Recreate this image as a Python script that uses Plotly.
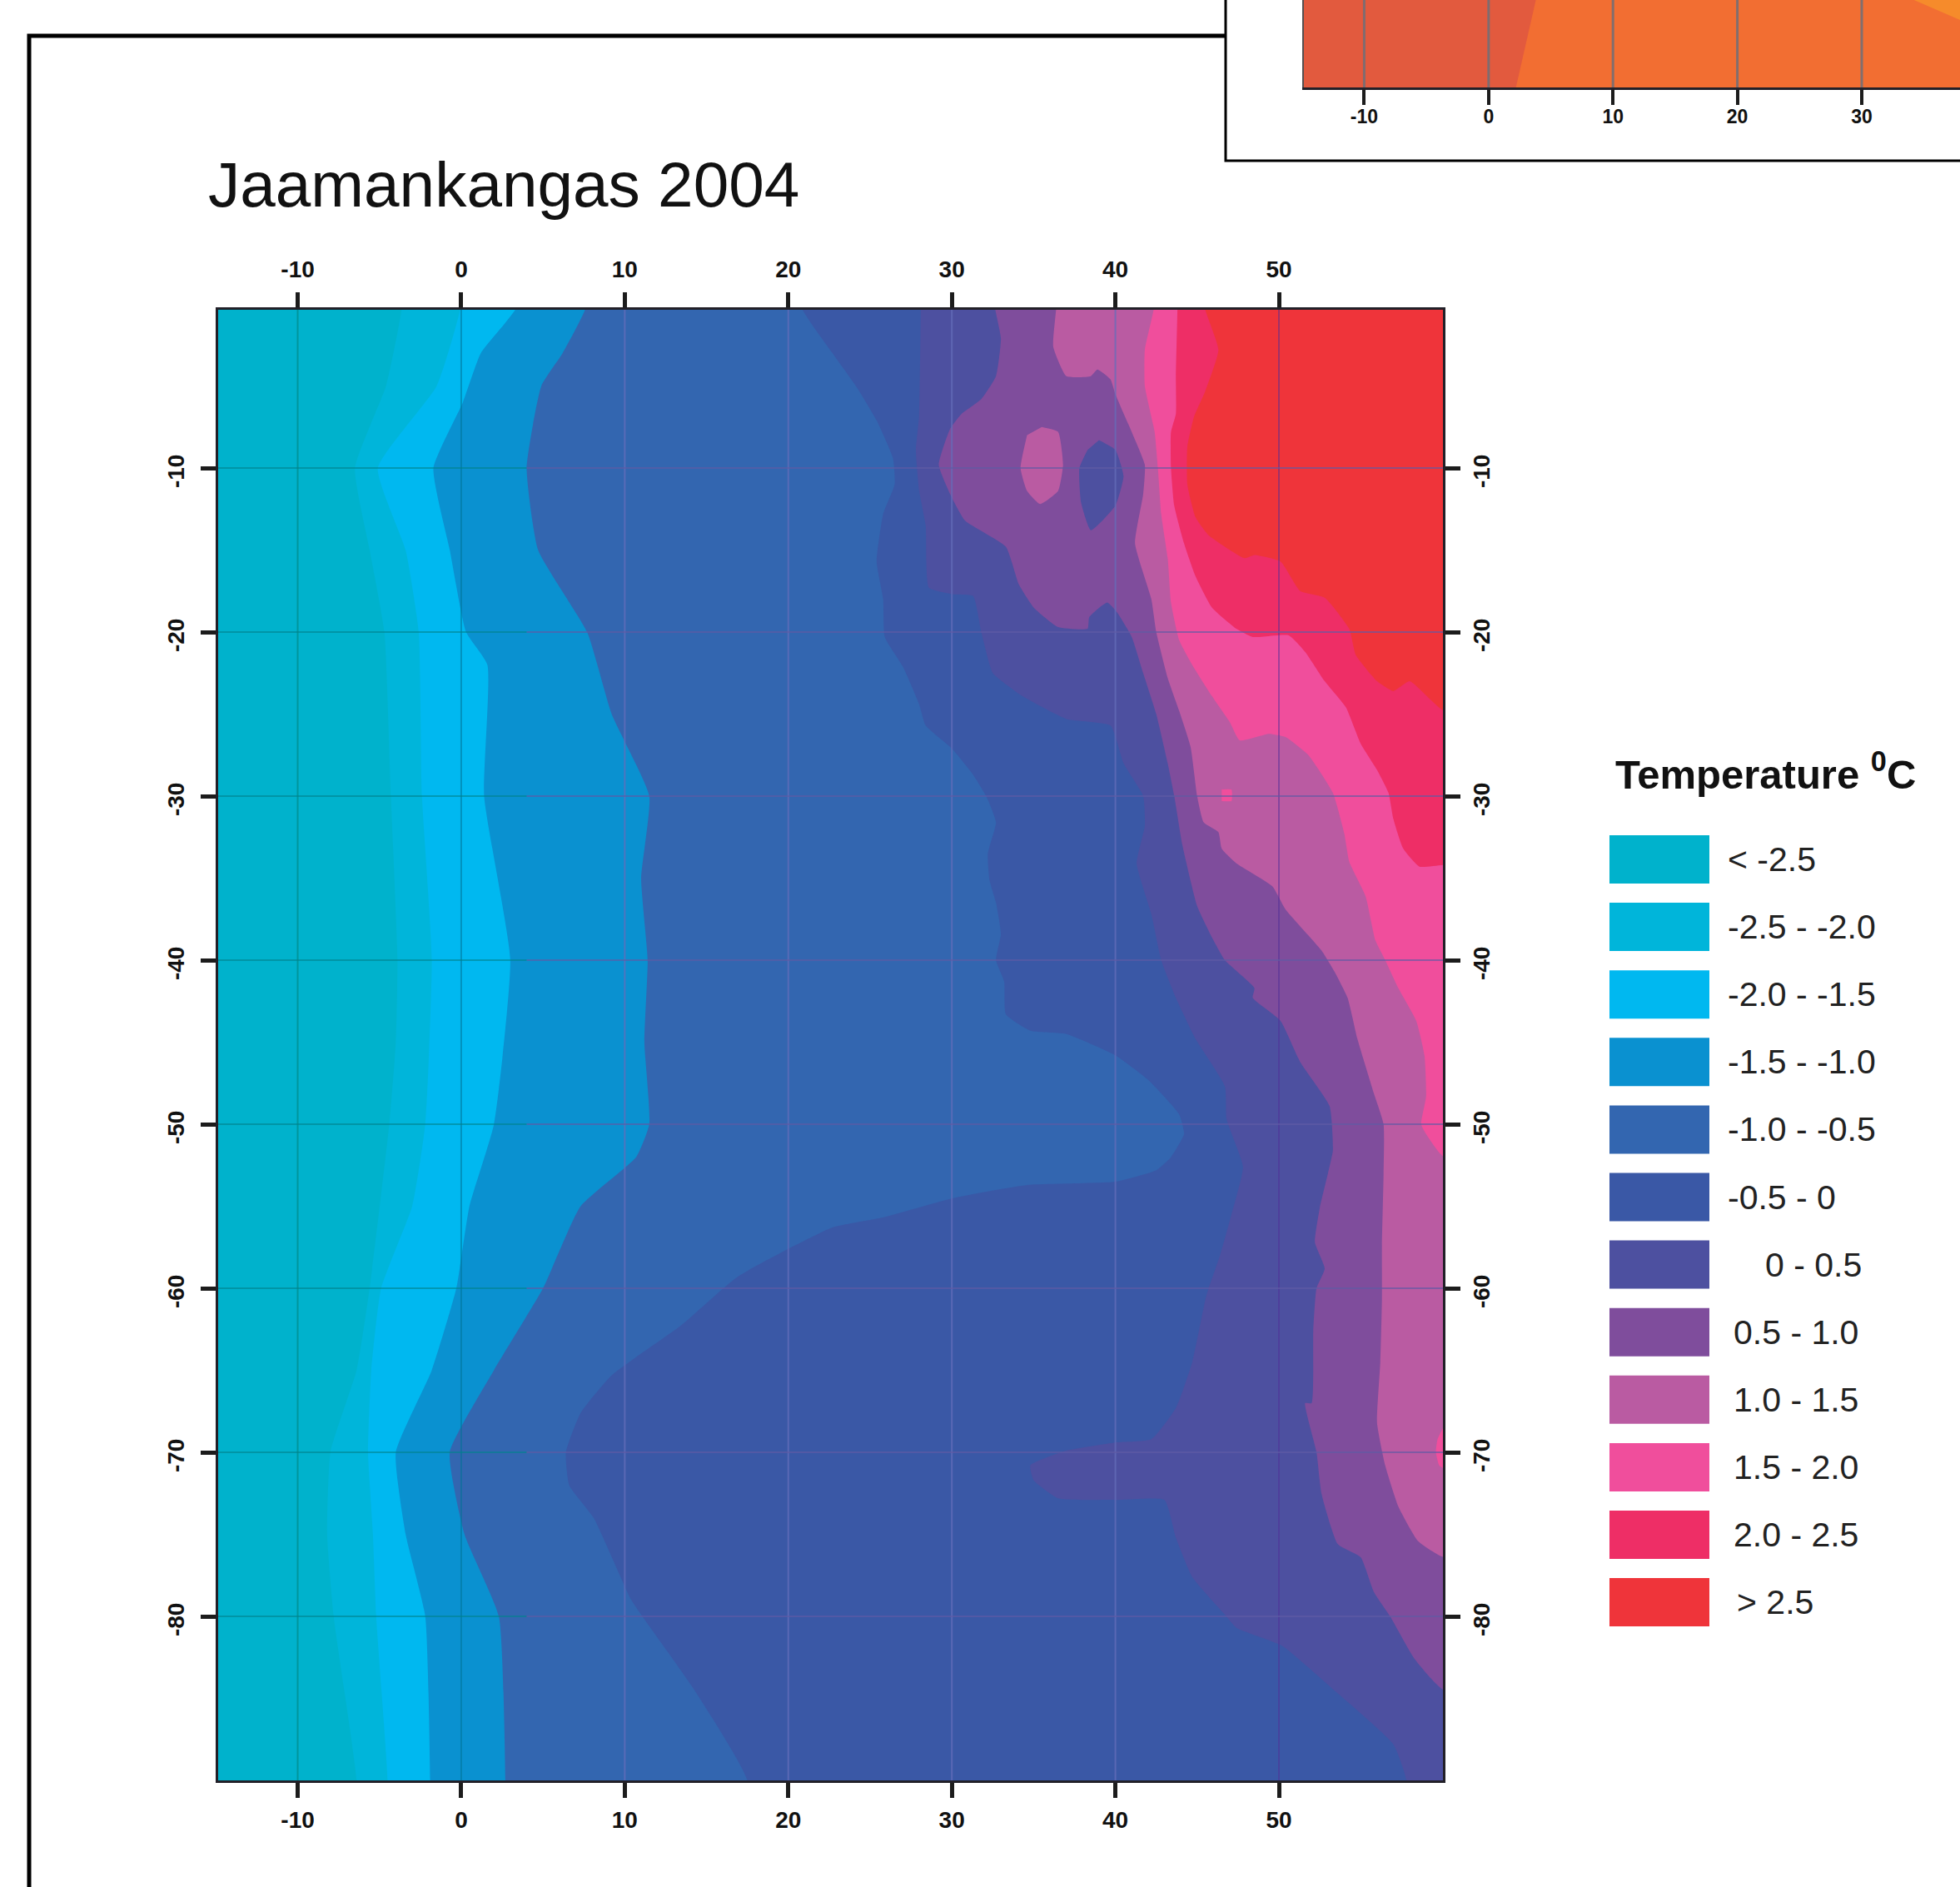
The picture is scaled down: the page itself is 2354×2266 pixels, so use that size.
import plotly.graph_objects as go

W, H = 2354, 2266

title_text = "Jaamankangas 2004"
legend_title = "<b>Temperature <sup>0</sup>C</b>"
class_labels = ["< -2.5", "-2.5 - -2.0", "-2.0 - -1.5", "-1.5 - -1.0", "-1.0 - -0.5", "-0.5 - 0",
                "0 - 0.5", "0.5 - 1.0", "1.0 - 1.5", "1.5 - 2.0", "2.0 - 2.5", "> 2.5"]
class_colors = ["#00B2CC", "#00B5DA", "#00B8F0", "#0A91D0", "#3366B0", "#3A58A6",
                "#4D50A0", "#7F4D9C", "#BA5BA2", "#F04E9C", "#EE2E66", "#EF343A"]

x_ticks = [-10, 0, 10, 20, 30, 40, 50]
y_ticks = [-10, -20, -30, -40, -50, -60, -70, -80]
inset_x_ticks = [-10, 0, 10, 20, 30]

# Class boundaries: distance (x) and depth (y) of each isotherm
b0_x = [-16, -16]
b0_y = [0, -90]
b1_x = [-3.6, -4.6, -6.5, -5.6, -4.7, -4.3, -3.9, -4.0, -4.4, -5.6, -6.4, -8.0, -8.2, -7.8, -6.4]
b1_y = [0, -5, -10, -15, -20, -30, -40, -45, -50, -60, -65, -70, -75, -80, -90]
b2_x = [0.0, -1.5, -5.1, -3.4, -2.6, -2.4, -1.8, -2.2, -3.0, -4.9, -5.5, -5.7, -5.4, -5.2, -4.5]
b2_y = [0, -5, -10, -15, -20, -30, -40, -50, -55, -60, -65, -70, -75, -80, -90]
b3_x = [3.5, 1.2, 0.1, -1.7, -0.7, 0.3, 1.6, 1.4, 3.0, 2.0, 0.5, -0.3, -1.8, -4.0, -3.4, -2.2, -1.9]
b3_y = [0, -3, -6, -10, -15, -20, -22, -30, -40, -50, -55, -60, -65, -70, -75, -80, -90]
b4_x = [7.7, 6.2, 4.9, 4.0, 4.7, 7.7, 9.2, 11.5, 11.0, 11.4, 11.2, 11.5, 10.7, 7.3, 5.0, 2.0, -0.7, 0.2, 2.3, 2.7]
b4_y = [0, -3, -5, -10, -15, -20, -25, -30, -35, -40, -45, -50, -52, -55, -60, -65, -70, -75, -80, -90]
b5_x = [20.7, 22.7, 24.2, 25.4, 26.4, 26.5, 25.8, 25.4, 25.8, 25.9, 27.0, 28.0, 28.4, 30.0, 31.3, 32.1,
        32.7, 32.2, 32.3, 32.7, 33.0, 32.7, 33.2, 33.3, 34.8, 37.0, 40.0, 42.0, 43.9, 44.2, 43.4, 42.5,
        40.0, 34.6, 30.1, 25.7, 22.7, 16.9, 13.4, 9.2, 7.3, 6.4, 6.6, 8.1, 10.4, 11.5, 14.2, 17.5]
b5_y = [0, -3, -5.1, -7.1, -9.4, -11, -12.8, -15.7, -18, -20.3, -22.1, -24.4, -25.7, -27.1, -28.7, -30,
        -31.6, -33.5, -35.1, -36.5, -38.4, -40, -41.3, -43.3, -44.3, -44.5, -45.8, -47.3, -49.4, -50.6, -52, -52.8,
        -53.5, -53.7, -54.5, -55.7, -56.3, -59.3, -62.3, -65.3, -67.6, -70, -72, -74, -79, -80.6, -84.4, -90]
b6_x = [28.1, 28.0, 27.8, 28.0, 28.4, 28.6, 30.1, 31.3, 31.8, 32.5, 33.6, 34.3, 37.0, 39.7, 40.5, 41.7,
        41.8, 41.3, 42.2, 42.8, 43.7, 44.9, 46.7, 46.8, 47.8, 47.1, 46.4, 45.7, 45.5, 44.7, 43.7, 42.2,
        40.0, 37.0, 34.8, 35.0, 36.5, 40.0, 43.0, 43.7, 44.7, 46.7, 47.4, 50.2, 53.6, 57.0, 57.8]
b6_y = [0, -6.8, -8.9, -11.4, -13.5, -17.3, -17.7, -17.8, -20, -22.5, -23.4, -23.9, -25.3, -25.7, -28, -30,
        -31.8, -34.1, -37.2, -40, -42.3, -44.8, -47.7, -49.7, -52.6, -55.5, -58, -60, -60.7, -64.5, -67.3, -69.2,
        -69.4, -69.9, -70.8, -71.7, -72.8, -72.9, -72.9, -75.2, -77.6, -79.9, -80.7, -81.8, -84.7, -87.8, -90]
b7_x = [32.6, 33.0, 32.7, 31.8, 30.6, 29.9, 29.2, 29.9, 30.8, 33.3, 34.1, 35.0, 36.5, 38.3, 38.4, 39.5,
        40.1, 41.0, 41.7, 42.5, 43.2, 43.6, 44.1, 45.0, 45.9, 46.7, 48.5, 48.4, 50.1, 51.3, 53.1, 53.3,
        53.0, 52.5, 52.2, 52.8, 52.3, 52.1, 52.0, 51.6, 52.3, 52.6, 53.6, 55.0, 55.8, 56.8, 58.3, 60.1]
b7_y = [0, -2.1, -4.4, -5.8, -6.7, -7.6, -9.8, -11.6, -13.2, -14.8, -17.1, -18.5, -19.7, -19.8, -19.1, -18.2,
        -18.8, -20.3, -22.5, -25, -28, -30, -33, -36.7, -38.6, -40, -41.7, -42.3, -43.7, -46.2, -48.9, -51.6,
        -53, -55.1, -57.2, -58.8, -60, -62.6, -67, -67, -70, -72.5, -75.6, -76.4, -78.5, -80, -82.6, -84.5]
b8_x = [36.4, 36.2, 37.0, 38.5, 38.9, 39.7, 40.0, 41.0, 41.8, 41.7, 41.2, 42.2, 42.5, 43.2, 43.9, 44.6,
        45.0, 45.4, 46.3, 46.5, 47.4, 49.6, 50.4, 52.6, 53.4, 54.2, 54.8, 55.8, 56.4, 56.4, 56.3, 56.3,
        56.2, 56.0, 56.5, 57.3, 58.5, 60.1]
b8_y = [0, -2.6, -4.4, -4.4, -4.0, -4.6, -5.5, -7.8, -9.8, -11.6, -14.6, -18, -20, -22.8, -24.8, -27,
        -30, -31.6, -32.2, -33.2, -34.1, -35.5, -36.9, -39.4, -40.7, -42.3, -44.8, -48.1, -50, -53, -57.4, -60.7,
        -64.5, -68.2, -70.8, -73.3, -75.4, -76.4]
b9_x = [42.4, 41.8, 41.8, 42.4, 42.6, 42.8, 43.2, 43.4, 43.9, 44.7, 45.9, 47.0, 47.6, 49.4, 50.4, 51.8,
        53.3, 54.0, 54.3, 55.3, 55.9, 56.5, 57.3, 58.4, 58.9, 59.0, 58.7, 59.0, 60.1]
b9_y = [0, -2.8, -5, -7.8, -10, -12.8, -15.5, -18.2, -20.5, -22, -23.9, -25.5, -26.6, -26.2, -26.4, -27.5,
        -29.8, -32.3, -34, -36.1, -38.8, -40, -41.7, -43.7, -45.8, -48.3, -50, -50.6, -52]
b10_x = [43.8, 43.7, 43.7, 43.4, 43.4, 43.6, 44.2, 44.9, 45.9, 47.4, 48.4, 50.6, 51.6, 52.8, 54.1, 55.0,
         56.0, 56.7, 57.0, 57.6, 58.6, 60.1]
b10_y = [0, -4.4, -6.7, -7.8, -10, -12.3, -14.6, -16.6, -18.5, -19.8, -20.3, -20.2, -21.2, -23, -24.6, -26.8,
         -28.4, -29.8, -31.4, -33.2, -34.3, -34.2]
b11_x = [45.4, 46.3, 45.5, 44.8, 44.4, 44.4, 44.9, 45.7, 47.9, 48.5, 50.1, 51.3, 52.8, 54.3, 54.7, 56.0, 57.0, 58.0, 60.1]
b11_y = [0, -2.8, -5.3, -6.9, -8.7, -11, -13, -14.1, -15.5, -15.3, -15.7, -17.5, -17.9, -19.8, -21.4, -23, -23.6, -23, -24.8]
boundaries_x = [b0_x, b1_x, b2_x, b3_x, b4_x, b5_x, b6_x, b7_x, b8_x, b9_x, b10_x, b11_x]
boundaries_y = [b0_y, b1_y, b2_y, b3_y, b4_y, b5_y, b6_y, b7_y, b8_y, b9_y, b10_y, b11_y]

# Closed patches inside a larger band: (class index, x, y)
warm_island_x = [35.5, 36.5, 36.8, 36.5, 35.4, 34.6, 34.2, 34.6]
warm_island_y = [-7.5, -7.8, -9.8, -11.4, -12.2, -11.4, -10, -8]
cool_island_x = [39.0, 40.0, 40.5, 40.0, 38.5, 37.9, 37.8, 38.3]
cool_island_y = [-8.3, -8.9, -10.5, -12.3, -13.8, -12.1, -10, -8.9]
dot_x = [46.5, 47.1, 47.1, 46.5]
dot_y = [-29.6, -29.6, -30.3, -30.3]
edge_patch_x = [60.1, 59.7, 59.6, 59.8, 60.1]
edge_patch_y = [-68.4, -69.2, -70, -70.8, -71]
islands = [(8, warm_island_x, warm_island_y), (6, cool_island_x, cool_island_y),
           (9, dot_x, dot_y), (9, edge_patch_x, edge_patch_y)]

# Partly visible inset map (cut off by the page edge)
inset_colors = ["#E25A3E", "#F26E32", "#F68B2B"]
inset_b0_x, inset_b0_y = [-16, -16], [-83, -90]
inset_b1_x, inset_b1_y = [3.8, 2.2], [-83, -90]
inset_b2_x, inset_b2_y = [34.2, 37.9], [-83, -84.6]

X_RANGE = [-14.89, 60.03]
Y_RANGE = [-90, -0.33]
XEND = 70
SPLINE = dict(width=0, shape="spline", smoothing=0.45)


def xp(px):
    return px / W


def yp(py):
    return 1 - py / H


fig = go.Figure()

for bx, by, col in zip(boundaries_x, boundaries_y, class_colors):
    # carry the band past the plot edges so that smoothing never shows at the frame
    if by[-1] <= -90:
        tail_x, tail_y = [bx[-1]], [-96]
    else:
        tail_x, tail_y = [66], [by[-1]]
    px_ = [bx[0]] + bx + tail_x + [XEND, XEND]
    py_ = [6] + by + tail_y + [tail_y[-1], 6]
    fig.add_trace(go.Scatter(x=px_, y=py_, mode="lines", fill="toself", fillcolor=col, line=SPLINE,
                             hoverinfo="skip", showlegend=False))
for idx, ix, iy in islands:
    fig.add_trace(go.Scatter(x=ix, y=iy, mode="lines", fill="toself", fillcolor=class_colors[idx],
                             line=SPLINE, hoverinfo="skip", showlegend=False))


def add_grid(gx, gy, color, width=2):
    fig.add_trace(go.Scatter(x=gx, y=gy, xaxis="x2", yaxis="y2", mode="lines",
                             line=dict(color=color, width=width), hoverinfo="skip", showlegend=False))


# Grid drawn over the colour bands, on the overlaying axes; its tint follows the band below it
COLD_END = 4
for t in x_ticks:
    tint = {-10: "rgba(0,140,140,0.75)", 0: "rgba(0,115,150,0.55)",
            50: "rgba(80,45,150,0.5)"}.get(t, "rgba(100,110,185,0.75)")
    add_grid([t, t], Y_RANGE, tint)
for t in y_ticks:
    add_grid([X_RANGE[0], COLD_END], [t, t], "rgba(0,130,140,0.6)")
    add_grid([COLD_END, X_RANGE[1]], [t, t], "rgba(95,90,165,0.65)")

# Inset
for bx, by, col in zip([inset_b0_x, inset_b1_x, inset_b2_x], [inset_b0_y, inset_b1_y, inset_b2_y], inset_colors):
    fig.add_trace(go.Scatter(x=bx + [XEND, XEND], y=by + [by[-1], by[0]], xaxis="x3", yaxis="y3", mode="lines",
                             fill="toself", fillcolor=col, line=dict(width=0), hoverinfo="skip", showlegend=False))
inset_gx, inset_gy = [], []
for t in inset_x_ticks:
    inset_gx += [t, t, None]
    inset_gy += [-90, -83, None]
fig.add_trace(go.Scatter(x=inset_gx, y=inset_gy, xaxis="x3", yaxis="y3", mode="lines",
                         line=dict(color="rgba(110,110,120,0.85)", width=3),
                         hoverinfo="skip", showlegend=False))

FONT = "Liberation Sans, Arial, sans-serif"
tickfont = dict(family=FONT, size=28, color="#111111")
axis_common = dict(showgrid=False, zeroline=False, showline=True, linecolor="#222028", linewidth=3,
                   ticks="outside", ticklen=18, tickwidth=4.5, tickcolor="#1c1c1c", tickfont=tickfont,
                   fixedrange=True)
x_dom = [xp(261.5), xp(1733)]
y_dom = [yp(2138), yp(371.5)]
tick_txt = [f"<b>{t}</b>" for t in x_ticks]
ytick_txt = [f"<b>{t}</b>" for t in y_ticks]

fig.update_layout(
    width=W, height=H, margin=dict(l=0, r=0, t=0, b=0), paper_bgcolor="white", plot_bgcolor="white",
    showlegend=False,
    xaxis=dict(domain=x_dom, range=X_RANGE, anchor="y", side="bottom", tickmode="array", tickvals=x_ticks,
               ticktext=tick_txt, ticklabelstandoff=2, **axis_common),
    yaxis=dict(domain=y_dom, range=Y_RANGE, anchor="x", side="left", tickmode="array", tickvals=y_ticks,
               ticktext=ytick_txt, tickangle=-90, ticklabelstandoff=8, ticklabelshift=8, **axis_common),
    xaxis2=dict(domain=x_dom, range=X_RANGE, anchor="y2", overlaying="x", side="top", tickmode="array",
                tickvals=x_ticks, ticktext=tick_txt, ticklabelstandoff=6, **axis_common),
    yaxis2=dict(domain=y_dom, range=Y_RANGE, anchor="x2", overlaying="y", side="right", tickmode="array",
                tickvals=y_ticks, ticktext=ytick_txt, tickangle=-90, ticklabelstandoff=1, ticklabelshift=8,
                **axis_common),
    xaxis3=dict(domain=[xp(1566), 1], range=[-14.85, 37.9], anchor="y3", tickmode="array",
                tickvals=inset_x_ticks, ticktext=[f"<b>{t}</b>" for t in inset_x_ticks], ticklabelstandoff=-6,
                **{**axis_common, "tickwidth": 4, "tickfont": dict(family=FONT, size=23, color="#111111")}),
    yaxis3=dict(domain=[yp(105), 1], range=[-90, -83], anchor="x3", showticklabels=False, ticks="",
                showgrid=False, zeroline=False, showline=True, linecolor="#555050", linewidth=2, fixedrange=True),
)

shapes = [
    dict(type="path", xref="paper", yref="paper", line=dict(color="black", width=5),
         path=f"M {xp(35)} {yp(H + 5)} L {xp(35)} {yp(43)} L {xp(1472)} {yp(43)}"),
    dict(type="path", xref="paper", yref="paper", line=dict(color="black", width=3),
         path=f"M {xp(1472)} {yp(-5)} L {xp(1472)} {yp(193)} L {xp(W + 5)} {yp(193)}"),
]
annotations = [
    dict(text=title_text, xref="paper", yref="paper", x=xp(248), y=yp(221), xanchor="left", yanchor="middle",
         showarrow=False, font=dict(family=FONT, size=76.5, color="#111111")),
    dict(text=legend_title, xref="paper", yref="paper", x=xp(1938), y=yp(926), xanchor="left", yanchor="middle",
         showarrow=False, font=dict(family=FONT, size=49, color="#111111")),
]
label_left = [2073, 2073, 2073, 2073, 2073, 2073, 2118, 2080, 2080, 2080, 2080, 2084]
for i, (lab, col) in enumerate(zip(class_labels, class_colors)):
    top = 1003 + i * 81.1
    shapes.append(dict(type="rect", xref="paper", yref="paper", x0=xp(1933), x1=xp(2053), y0=yp(top), y1=yp(top + 58),
                       fillcolor=col, line=dict(width=0), layer="above"))
    annotations.append(dict(text=lab, xref="paper", yref="paper", x=xp(label_left[i]), y=yp(top + 29),
                            xanchor="left", yanchor="middle", showarrow=False,
                            font=dict(family=FONT, size=41, color="#222222")))
fig.update_layout(shapes=shapes, annotations=annotations)

fig.write_html("out.html", config={"displayModeBar": False},
               post_script="document.body.style.margin='0';document.body.style.overflow='hidden';")
